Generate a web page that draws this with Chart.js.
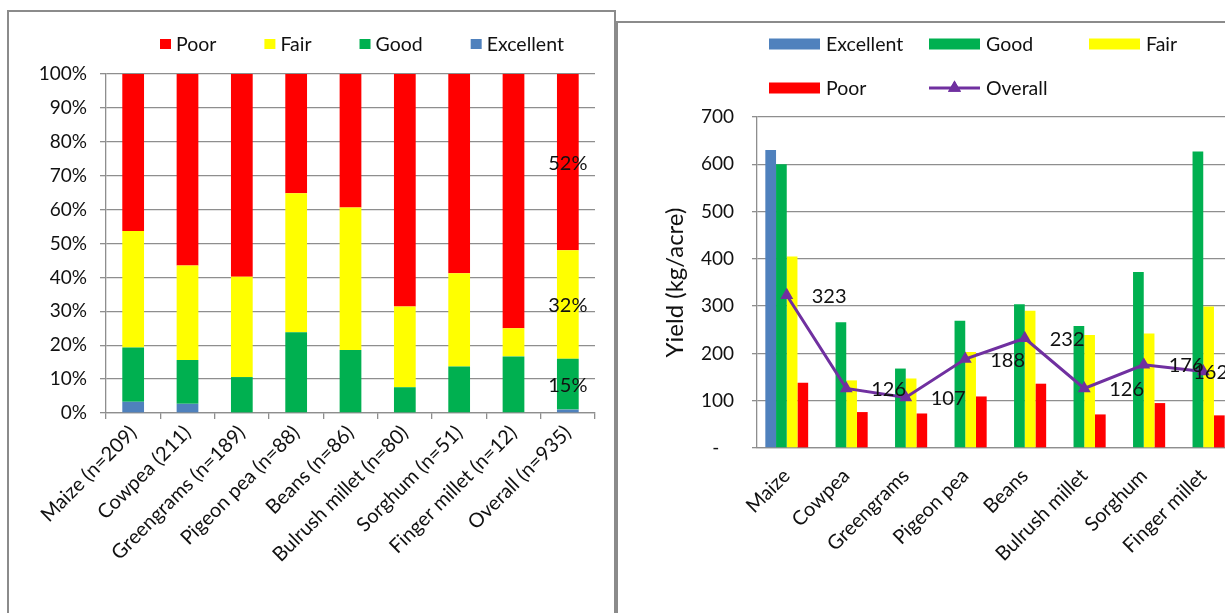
<!DOCTYPE html>
<html>
<head>
<meta charset="utf-8">
<title>Crop condition and yield</title>
<script src="https://cdn.jsdelivr.net/npm/chart.js@4.4.1/dist/chart.umd.min.js"></script>
<style>
  html, body { margin: 0; padding: 0; background: #fff; overflow: hidden; width: 1225px; height: 613px; }
  .frame { position: absolute; box-sizing: border-box; border: 2px solid #8b8b8b; background: #fff; }
  #frameLeft { left: 7px; top: 10px; width: 609px; height: 700px; }
  #frameRight { left: 616px; top: 21px; width: 700px; height: 700px; }
  canvas { position: absolute; }
  #conditionChart { left: 9px; top: 12px; }
  #yieldChart { left: 618px; top: 23px; }
</style>
</head>
<body>
<div class="frame" id="frameLeft"></div>
<div class="frame" id="frameRight"></div>
<canvas id="conditionChart" width="605" height="601"></canvas>
<canvas id="yieldChart" width="640" height="590"></canvas>
<script>
// ---- Share of farms by crop condition (%), per crop ----
const conditionCategories = ['Maize (n=209)', 'Cowpea (211)', 'Greengrams (n=189)', 'Pigeon pea (n=88)',
  'Beans (n=86)', 'Bulrush millet (n=80)', 'Sorghum (n=51)', 'Finger millet (n=12)', 'Overall (n=935)'];
const excellentShare = [3.3, 2.7, 0, 0, 0, 0, 0, 0, 1];
const goodShare      = [16.0, 12.9, 10.6, 23.8, 18.6, 7.6, 13.7, 16.7, 15];
const fairShare      = [34.4, 27.9, 29.6, 41.0, 42.0, 23.8, 27.5, 8.3, 32];
const poorShare      = [46.3, 56.5, 59.8, 35.2, 39.4, 68.6, 58.8, 75.0, 52];
const shareTickStep = 10;

// ---- Yield (kg/acre) by crop condition, per crop ----
const yieldCrops = ['Maize', 'Cowpea', 'Greengrams', 'Pigeon pea', 'Beans', 'Bulrush millet', 'Sorghum', 'Finger millet'];
const yieldExcellent = [630, null, null, null, null, null, null, null];
const yieldGood      = [600, 266, 168, 269, 304, 258, 372, 627];
const yieldFair      = [405, 143, 147, 203, 290, 239, 242, 299];
const yieldPoor      = [138, 76, 73, 109, 136, 71, 95, 69];
const yieldOverall   = [323, 126, 107, 188, 232, 126, 176, 162];
const yieldTickStep = 100;

const COLORS = { excellent: '#4f81bd', good: '#00b050', fair: '#ffff00', poor: '#ff0000', overall: '#7030a0' };
const GRID = '#8e8e8e';
const TEXT = '#111111';
const FAMILY = 'Lato, "Open Sans", sans-serif';

// Legend drawn on the canvas: either flowing in one row, or in fixed columns.
const boxLegend = {
  id: 'boxLegend',
  afterDraw(chart, args, o) {
    if (!o || !o.order) return;
    const ctx = chart.ctx;
    ctx.save();
    ctx.font = o.font;
    ctx.textBaseline = 'middle';
    ctx.textAlign = 'left';
    let x = o.x;
    o.order.forEach((dsIndex, i) => {
      const ds = chart.data.datasets[dsIndex];
      let bx, by;
      if (o.columns) {
        bx = o.x + (i % o.columns) * o.colWidth;
        by = o.y + Math.floor(i / o.columns) * o.rowHeight;
      } else {
        bx = x;
        by = o.y;
      }
      if (ds.type === 'line') {
        ctx.strokeStyle = ds.borderColor;
        ctx.lineWidth = ds.borderWidth;
        ctx.beginPath();
        ctx.moveTo(bx, by);
        ctx.lineTo(bx + o.boxWidth, by);
        ctx.stroke();
        ctx.fillStyle = ds.backgroundColor;
        Chart.helpers.drawPoint(ctx, { pointStyle: 'triangle', radius: ds.pointRadius, borderWidth: 0 }, bx + o.boxWidth / 2, by);
        ctx.fill();
      } else {
        ctx.fillStyle = ds.backgroundColor;
        ctx.fillRect(bx, by - o.boxHeight / 2, o.boxWidth, o.boxHeight);
      }
      ctx.fillStyle = TEXT;
      ctx.fillText(ds.label, bx + o.boxWidth + o.textGap, by + 1);
      x = bx + o.boxWidth + o.textGap + ctx.measureText(ds.label).width + (o.itemGap || 0);
    });
    ctx.restore();
  }
};

// Value labels: "%" labels inside the last stacked bar; numbers to the right of the line points.
const valueLabels = {
  id: 'valueLabels',
  afterDatasetsDraw(chart, args, o) {
    if (!o) return;
    const ctx = chart.ctx;
    ctx.save();
    ctx.font = o.font;
    ctx.fillStyle = TEXT;
    ctx.textBaseline = 'middle';
    chart.data.datasets.forEach((ds, di) => {
      if (!ds.showValues) return;
      const meta = chart.getDatasetMeta(di);
      if (o.mode === 'lastBar') {
        const idx = ds.data.length - 1;
        const el = meta.data[idx];
        ctx.textAlign = 'center';
        ctx.fillText(Math.round(ds.data[idx]) + '%', el.x, (el.y + el.base) / 2 + 1);
      } else {
        ctx.textAlign = 'left';
        meta.data.forEach((pt, i) => {
          const txt = String(ds.data[i]);
          const w = ctx.measureText(txt).width;
          const x = Math.min(pt.x + o.offsetX, chart.chartArea.right - w - 5);
          ctx.fillText(txt, x, pt.y + 1);
        });
      }
    });
    ctx.restore();
  }
};

function drawCharts() {
  const yTickFont = { family: FAMILY, size: 19 };
  const xTickFont = { family: FAMILY, size: 20 };

  new Chart(document.getElementById('conditionChart'), {
    type: 'bar',
    data: {
      labels: conditionCategories,
      datasets: [
        { label: 'Excellent', data: excellentShare, backgroundColor: COLORS.excellent },
        { label: 'Good', data: goodShare, backgroundColor: COLORS.good, showValues: true },
        { label: 'Fair', data: fairShare, backgroundColor: COLORS.fair, showValues: true },
        { label: 'Poor', data: poorShare, backgroundColor: COLORS.poor, showValues: true }
      ]
    },
    options: {
      responsive: false,
      animation: false,
      events: [],
      datasets: { bar: { categoryPercentage: 1, barPercentage: 0.4, borderWidth: 0 } },
      layout: { padding: { top: 62, right: 19, left: 0, bottom: 0 } },
      plugins: {
        legend: { display: false },
        tooltip: { enabled: false },
        boxLegend: { order: [3, 2, 1, 0], x: 151, y: 32, boxWidth: 11, boxHeight: 10, textGap: 5, itemGap: 48,
                     font: '19.5px ' + FAMILY },
        valueLabels: { mode: 'lastBar', font: '20px ' + FAMILY }
      },
      scales: {
        x: {
          stacked: true,
          grid: { display: true, drawOnChartArea: false, drawTicks: true, tickLength: 6, color: GRID, lineWidth: 1.3, offset: true },
          border: { color: GRID, width: 1.3 },
          ticks: { minRotation: 45, maxRotation: 45, autoSkip: false, font: xTickFont, color: TEXT, padding: 2 },
          afterFit(s) { s.height = 200; }
        },
        y: {
          stacked: true, min: 0, max: 100,
          ticks: { stepSize: shareTickStep, callback: v => v + '%', font: yTickFont, color: TEXT, padding: 13 },
          grid: { color: GRID, lineWidth: 1.3, tickLength: 6 },
          border: { color: GRID, width: 1.3 },
          afterFit(s) { s.width = 97; }
        }
      }
    },
    plugins: [boxLegend, valueLabels]
  });

  new Chart(document.getElementById('yieldChart'), {
    type: 'bar',
    data: {
      labels: yieldCrops,
      datasets: [
        { type: 'line', label: 'Overall', data: yieldOverall, borderColor: COLORS.overall, backgroundColor: COLORS.overall,
          borderWidth: 3, pointStyle: 'triangle', pointRadius: 7.5, pointBorderWidth: 0, order: 0, showValues: true },
        { label: 'Excellent', data: yieldExcellent, backgroundColor: COLORS.excellent, order: 1 },
        { label: 'Good', data: yieldGood, backgroundColor: COLORS.good, order: 1 },
        { label: 'Fair', data: yieldFair, backgroundColor: COLORS.fair, order: 1 },
        { label: 'Poor', data: yieldPoor, backgroundColor: COLORS.poor, order: 1 }
      ]
    },
    options: {
      responsive: false,
      animation: false,
      events: [],
      datasets: { bar: { categoryPercentage: 0.72, barPercentage: 1, borderWidth: 0 } },
      layout: { padding: { top: 94, right: 25, left: 0, bottom: 0 } },
      plugins: {
        legend: { display: false },
        tooltip: { enabled: false },
        boxLegend: { order: [1, 2, 3, 4, 0], columns: 3, x: 151, y: 21, colWidth: 160, rowHeight: 44,
                     boxWidth: 51, boxHeight: 11, textGap: 6, font: '19.5px ' + FAMILY },
        valueLabels: { mode: 'points', offsetX: 25, font: '20px ' + FAMILY }
      },
      scales: {
        x: {
          grid: { display: false, drawTicks: false },
          border: { color: GRID, width: 1.3 },
          ticks: { minRotation: 45, maxRotation: 45, autoSkip: false, font: xTickFont, color: TEXT, padding: 16 },
          afterFit(s) { s.height = 165; }
        },
        y: {
          min: 0, max: 700,
          ticks: { stepSize: yieldTickStep, callback: v => (v === 0 ? '-   ' : v), font: yTickFont, color: TEXT, padding: 18 },
          grid: { color: GRID, lineWidth: 1.3, tickLength: 5 },
          border: { color: GRID, width: 1.3 },
          title: { display: true, text: 'Yield (kg/acre)', font: { family: FAMILY, size: 24 }, color: TEXT,
                   padding: { top: 43, bottom: 0 } },
          afterFit(s) { s.width = 139; }
        }
      }
    },
    plugins: [boxLegend, valueLabels]
  });
}

if (document.fonts && document.fonts.load) {
  Promise.all([document.fonts.load('19px Lato'), document.fonts.load('24px Lato')]).then(drawCharts, drawCharts);
} else {
  drawCharts();
}
</script>
</body>
</html>
